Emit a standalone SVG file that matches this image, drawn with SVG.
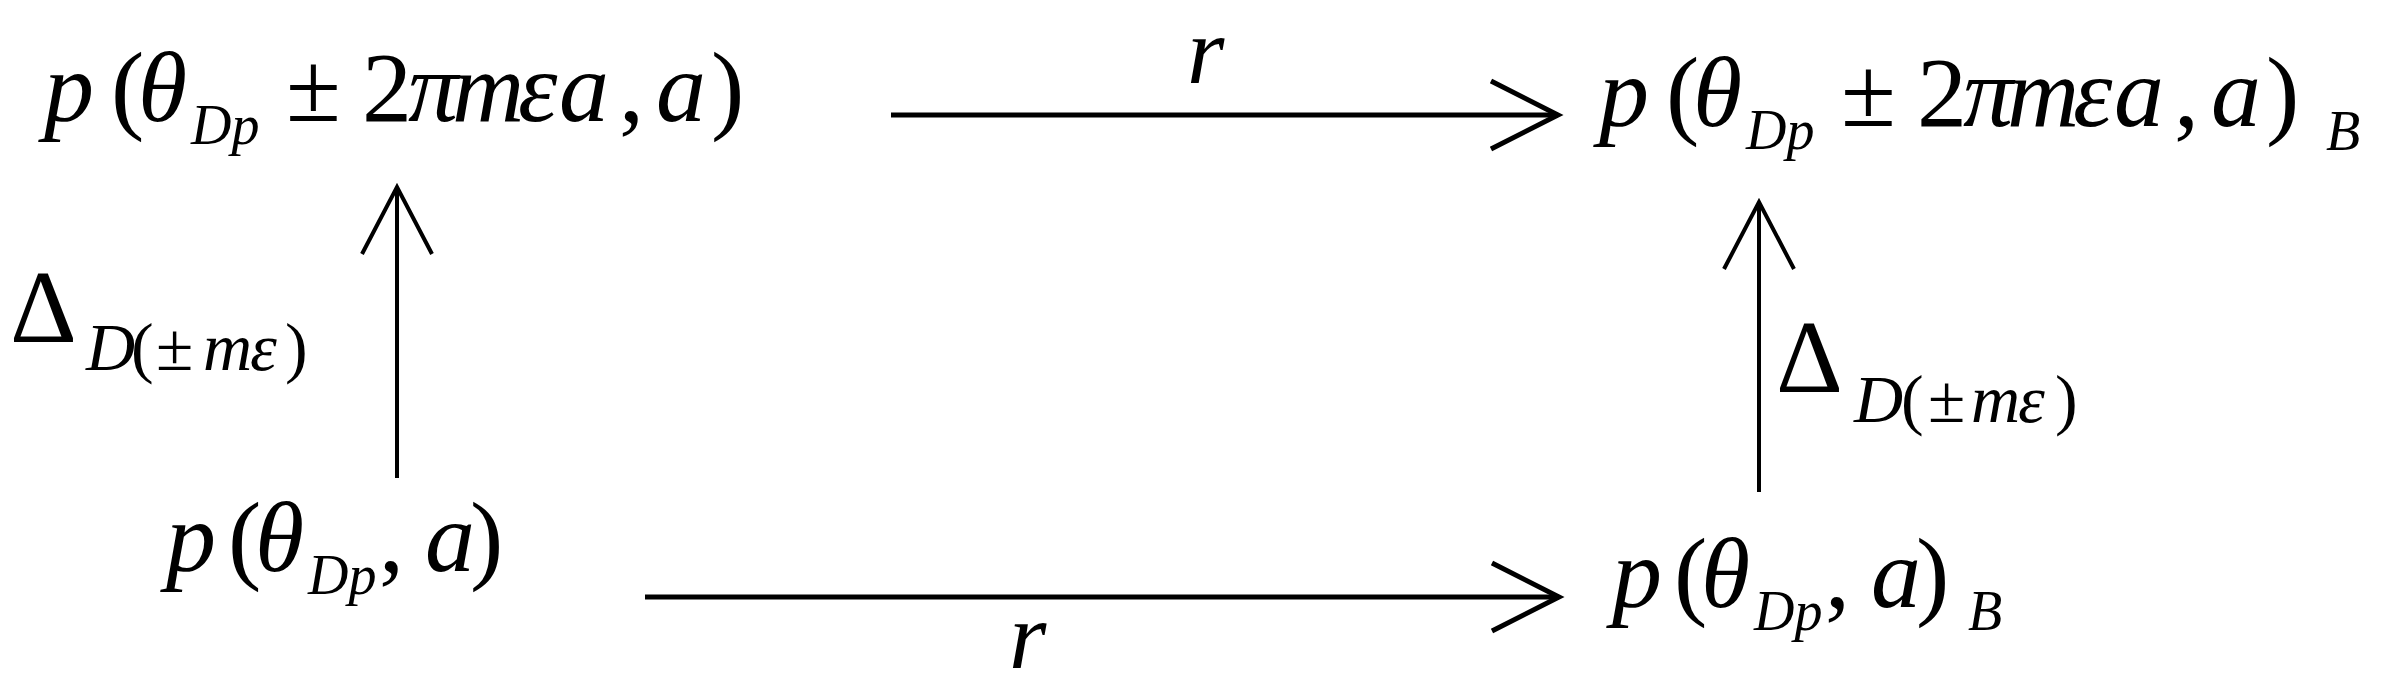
<svg xmlns="http://www.w3.org/2000/svg" width="2383" height="688" viewBox="0 0 2383 688" font-family="'Liberation Serif', 'Times New Roman', serif">
<style>
  .t { font-family: 'Liberation Serif', 'Times New Roman', serif; fill: #000; }
  .m { font-size: 100px; }
  .i { font-style: italic; }
  .s { font-size: 56px; }
  .d { font-size: 104px; }
  .ds { font-size: 68px; }
  .lbl { font-size: 96px; font-style: italic; }
  .h { stroke: #000; stroke-width: 5; fill: none; }
  .v { stroke: #000; stroke-width: 4; fill: none; }
</style>
<defs>
  <marker id="ahH" markerUnits="userSpaceOnUse" viewBox="-80 -45 90 90" markerWidth="90" markerHeight="90" refX="0" refY="0" orient="auto" overflow="visible">
    <path d="M-67,-34 L0,0 L-67,34" fill="none" stroke="#000" stroke-width="5" stroke-linejoin="miter"/>
  </marker>
  <marker id="ahV" markerUnits="userSpaceOnUse" viewBox="-80 -45 90 90" markerWidth="90" markerHeight="90" refX="0" refY="0" orient="auto" overflow="visible">
    <path d="M-67,-35 L0,0 L-67,35" fill="none" stroke="#000" stroke-width="4" stroke-linejoin="miter"/>
  </marker>
</defs>
<rect width="2383" height="688" fill="#fff"/>

<g id="connectors">
  <line id="e-top" class="h" x1="891" y1="115" x2="1558" y2="115" marker-end="url(#ahH)"/>
  <line id="e-bottom" class="h" x1="645" y1="597" x2="1559" y2="597" marker-end="url(#ahH)"/>
  <line id="e-left" class="v" x1="397" y1="478" x2="397" y2="187" marker-end="url(#ahV)"/>
  <line id="e-right" class="v" x1="1759" y1="492" x2="1759" y2="202" marker-end="url(#ahV)"/>
</g>

<g id="label-top-r"><text class="t lbl" x="1187" y="83">r</text></g>
<g id="label-bottom-r"><text class="t lbl" x="1009" y="668">r</text></g>

<g id="label-left-delta">
  <text class="t d" x="10" y="342">Δ</text>
  <text class="t ds" y="370"><tspan class="i" x="86">D</tspan><tspan x="131">(</tspan><tspan x="156">±</tspan><tspan class="i" x="203 250">mε</tspan><tspan x="285">)</tspan></text>
</g>

<g id="label-right-delta">
  <text class="t d" x="1776" y="392">Δ</text>
  <text class="t ds" y="422"><tspan class="i" x="1854">D</tspan><tspan x="1901">(</tspan><tspan x="1928">±</tspan><tspan class="i" x="1971 2018">mε</tspan><tspan x="2055">)</tspan></text>
</g>

<g id="n-top-left">
  <text class="t m" y="121"><tspan class="i" x="44">p</tspan><tspan x="111">(</tspan><tspan class="i" x="138">θ</tspan><tspan class="s i" x="191" y="144">Dp</tspan><tspan x="286" y="121">±</tspan><tspan x="362">2</tspan><tspan class="i" x="408 452 518 559">πmεa</tspan><tspan x="619">,</tspan><tspan class="i" x="656">a</tspan><tspan x="711">)</tspan></text>
</g>

<g id="n-top-right">
  <text class="t m" y="126"><tspan class="i" x="1599">p</tspan><tspan x="1666">(</tspan><tspan class="i" x="1693">θ</tspan><tspan class="s i" x="1746" y="149">Dp</tspan><tspan x="1841" y="126">±</tspan><tspan x="1917">2</tspan><tspan class="i" x="1963 2007 2073 2114">πmεa</tspan><tspan x="2174">,</tspan><tspan class="i" x="2211">a</tspan><tspan x="2266">)</tspan><tspan class="s i" x="2326" y="150">B</tspan></text>
</g>

<g id="n-bottom-left">
  <text class="t m" y="571"><tspan class="i" x="166">p</tspan><tspan x="228">(</tspan><tspan class="i" x="255">θ</tspan><tspan class="s i" x="308" y="594">Dp</tspan><tspan x="379" y="571">,</tspan><tspan class="i" x="425">a</tspan><tspan x="470">)</tspan></text>
</g>

<g id="n-bottom-right">
  <text class="t m" y="607"><tspan class="i" x="1612">p</tspan><tspan x="1674">(</tspan><tspan class="i" x="1701">θ</tspan><tspan class="s i" x="1754" y="630">Dp</tspan><tspan x="1825" y="607">,</tspan><tspan class="i" x="1871">a</tspan><tspan x="1916">)</tspan><tspan class="s i" x="1968" y="630">B</tspan></text>
</g>
</svg>
